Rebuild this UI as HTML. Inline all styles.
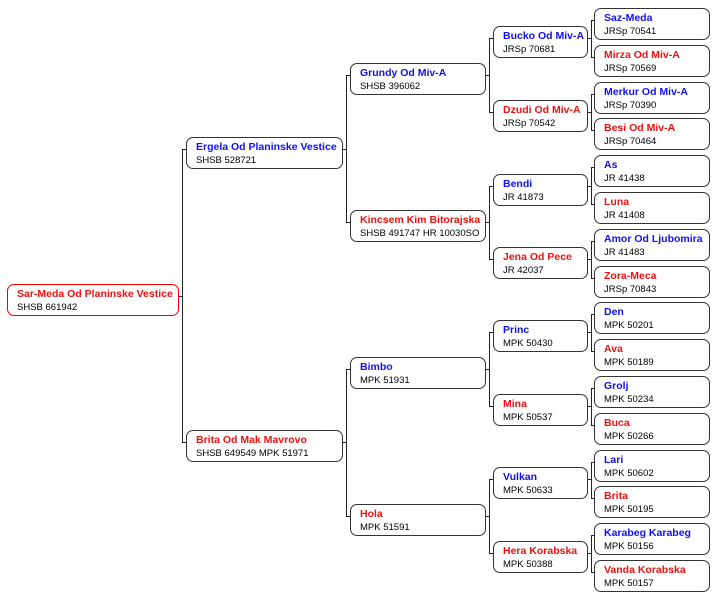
<!DOCTYPE html><html><head><style>
body{margin:0;width:721px;height:600px;background:#fff;position:relative;overflow:hidden;font-family:"Liberation Sans",Arial,sans-serif}
.b{position:absolute;box-sizing:border-box;border:1px solid #333;border-radius:7px;background:#fff;padding:3px 0 0 9px;height:32px}
.b.r0{border-color:#e00}
.n{font-size:10.5px;font-weight:bold;line-height:13px;white-space:nowrap}
.s{font-size:9.5px;color:#000;line-height:14px;white-space:nowrap}
.m{color:#1010f0}.f{color:#f01010}
.l{position:absolute;background:#222}
</style></head><body>
<div id="c"></div>
<script>
var boxes=[
[7,284,172,'Sar-Meda Od Planinske Vestice','SHSB 661942','f',1],
[186,137,157,'Ergela Od Planinske Vestice','SHSB 528721','m'],
[186,430,157,'Brita Od Mak Mavrovo','SHSB 649549 MPK 51971','f'],
[350,63,136,'Grundy Od Miv-A','SHSB 396062','m'],
[350,210,136,'Kincsem Kim Bitorajska','SHSB 491747 HR 10030SO','f'],
[350,357,136,'Bimbo','MPK 51931','m'],
[350,504,136,'Hola','MPK 51591','f'],
[493,26,95,'Bucko Od Miv-A','JRSp 70681','m'],
[493,100,95,'Dzudi Od Miv-A','JRSp 70542','f'],
[493,174,95,'Bendi','JR 41873','m'],
[493,247,95,'Jena Od Pece','JR 42037','f'],
[493,320,95,'Princ','MPK 50430','m'],
[493,394,95,'Mina','MPK 50537','f'],
[493,467,95,'Vulkan','MPK 50633','m'],
[493,541,95,'Hera Korabska','MPK 50388','f']];
var g4=[['Saz-Meda','JRSp 70541'],['Mirza Od Miv-A','JRSp 70569'],['Merkur Od Miv-A','JRSp 70390'],['Besi Od Miv-A','JRSp 70464'],['As','JR 41438'],['Luna','JR 41408'],['Amor Od Ljubomira','JR 41483'],['Zora-Meca','JRSp 70843'],['Den','MPK 50201'],['Ava','MPK 50189'],['Grolj','MPK 50234'],['Buca','MPK 50266'],['Lari','MPK 50602'],['Brita','MPK 50195'],['Karabeg Karabeg','MPK 50156'],['Vanda Korabska','MPK 50157']];
g4.forEach(function(a,i){boxes.push([594,8+Math.round(i*36.8),116,a[0],a[1],i%2?'f':'m']);});
var h='';
boxes.forEach(function(b){h+='<div class="b'+(b[6]?' r0':'')+'" style="left:'+b[0]+'px;top:'+b[1]+'px;width:'+b[2]+'px"><div class="n '+b[5]+'">'+b[3]+'</div><div class="s">'+b[4]+'</div></div>';});
// connectors: parent index -> children indices
var tree=[[0,1,2],[1,3,4],[2,5,6],[3,7,8],[4,9,10],[5,11,12],[6,13,14]];
for(var k=0;k<8;k++)tree.push([7+k,15+2*k,16+2*k]);
tree.forEach(function(t){var p=boxes[t[0]],c1=boxes[t[1]],c2=boxes[t[2]];
var px=p[0]+p[2],py=p[1]+12,vx=px+3,y1=c1[1]+12,y2=c2[1]+12;
h+='<div class="l" style="left:'+px+'px;top:'+py+'px;width:4px;height:1px"></div>';
h+='<div class="l" style="left:'+vx+'px;top:'+y1+'px;width:1px;height:'+(y2-y1+1)+'px"></div>';
h+='<div class="l" style="left:'+vx+'px;top:'+y1+'px;width:'+(c1[0]-vx)+'px;height:1px"></div>';
h+='<div class="l" style="left:'+vx+'px;top:'+y2+'px;width:'+(c2[0]-vx)+'px;height:1px"></div>';});
document.getElementById('c').innerHTML=h;
</script></body></html>
